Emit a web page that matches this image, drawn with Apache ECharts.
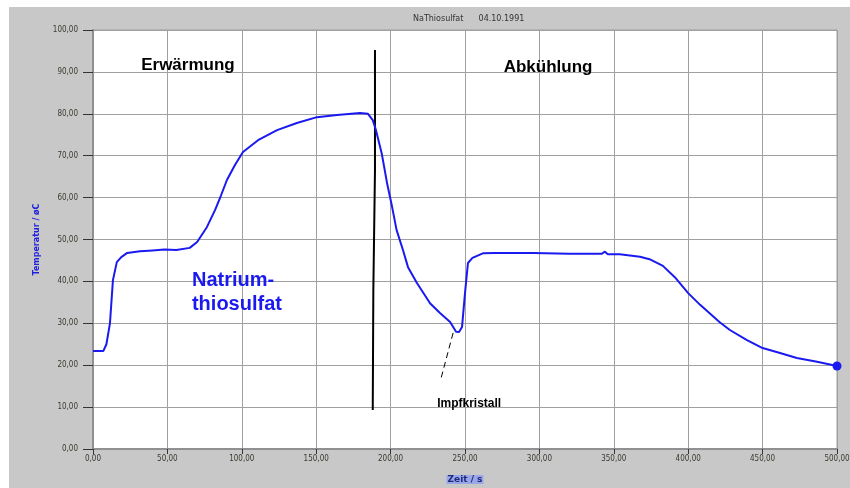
<!DOCTYPE html>
<html>
<head>
<meta charset="utf-8">
<script src="https://cdn.jsdelivr.net/npm/echarts@6/dist/echarts.min.js"></script>
<style>
html,body{margin:0;padding:0;background:#ffffff;}
#chart{width:850px;height:488px;}
</style>
</head>
<body>
<div id="chart"></div>
<script>
// Time (s) and temperature (°C)
const timeValues = [0,7,9,11.4,13.4,16,19,23,31.6,40,48,56,65,70,76.6,82,86,90,95.4,100.8,110.9,123.7,137,150.5,164,179.4,184.8,188,190,194,197.6,201,204,208.3,211.7,217.7,226.5,233,240,244,246,248,250,252,255,262,270,296,320,342,344,346,354,367.6,374,383,391,400,408,421,428,439.5,450,461.7,473,486.6,500];
const tempValues = [23.4,23.4,25,30,40.3,44.6,45.8,46.8,47.2,47.4,47.6,47.5,48,49.4,53,57,60.5,64.2,67.8,70.9,73.7,76.1,77.8,79.2,79.7,80.2,80,78.5,76.3,70.6,63.5,57.8,52.3,47.5,43.4,39.6,34.8,32.5,30.3,28,27.9,29.1,37.2,44.4,45.6,46.7,46.8,46.8,46.6,46.6,47.1,46.5,46.5,45.9,45.3,43.7,41,37.2,34.4,30.3,28.4,26,24.1,22.9,21.7,20.8,19.8];
// vertical separator line (hand drawn) and seed crystal pointer
const dividerX = [189.5,189.5,188.4,188.4,188,188];
const dividerY = [95.2,66.5,66.5,38,38,9.3];
const pointerX = [242,234];
const pointerY = [27.7,17];
const xTicks = {min:0,max:500,interval:50};
const yTicks = {min:0,max:100,interval:10};
const titleText = 'NaThiosulfat      04.10.1991';
const xName = 'Zeit / s';
const yName = 'Temperatur / øC';
const annotations = [
  {text:'Erwärmung', x:63.8, y:91.6, color:'#000000', size:17, align:'center'},
  {text:'Abkühlung', x:305.8, y:91.2, color:'#000000', size:17, align:'center'},
  {text:'Natrium-', x:66.5, y:40.3, color:'#1a1aee', size:20, align:'left'},
  {text:'thiosulfat', x:66.5, y:34.6, color:'#1a1aee', size:20, align:'left'},
  {text:'Impfkristall', x:231.3, y:10.7, color:'#000000', size:12, align:'left'}
];

const fmt = v => v.toFixed(2).replace('.', ',');
const zip = (a,b) => a.map((v,i)=>[v,b[i]]);

const chart = echarts.init(document.getElementById('chart'), null, {renderer:'canvas'});
chart.setOption({
  animation:false,
  backgroundColor:'transparent',
  graphic:[{type:'rect', z:-10, shape:{x:9,y:7,width:841,height:481}, style:{fill:'#c8c8c8'}, silent:true}],
  title:{text:titleText, left:408, top:10, textStyle:{fontSize:8, fontWeight:'normal', color:'#333333', fontFamily:'DejaVu Sans'}},
  grid:{left:93, top:30, right:13, bottom:39, outerBoundsMode:'none', containLabel:false, show:true, backgroundColor:'#ffffff', borderColor:'#a0a0a0', borderWidth:1},
  xAxis:{type:'value', min:xTicks.min, max:xTicks.max, interval:xTicks.interval,
    name:xName, nameLocation:'middle', nameGap:26,
    nameTextStyle:{fontSize:9, fontWeight:'bold', color:'#1c2a80', fontFamily:'DejaVu Sans', backgroundColor:'#9aa6e6', padding:[0,1]},
    axisLine:{lineStyle:{color:'#909090', width:2}},
    axisTick:{show:true, length:5, lineStyle:{color:'#333333'}},
    axisLabel:{formatter:fmt, fontSize:8, color:'#3a3a30', margin:6, fontFamily:'DejaVu Sans Condensed'},
    splitLine:{show:true, lineStyle:{color:'#a0a0a0', width:1}}
  },
  yAxis:{type:'value', min:yTicks.min, max:yTicks.max, interval:yTicks.interval,
    name:yName, nameLocation:'middle', nameGap:52, nameRotate:90,
    nameTextStyle:{fontSize:8, fontWeight:'bold', color:'#2020dd', fontFamily:'DejaVu Sans'},
    axisLine:{show:true, lineStyle:{color:'#909090', width:2}},
    axisTick:{show:true, length:10, lineStyle:{color:'#333333'}},
    axisLabel:{formatter:fmt, fontSize:8, color:'#3a3a30', margin:15, fontFamily:'DejaVu Sans Condensed'},
    splitLine:{show:true, lineStyle:{color:'#a0a0a0', width:1}}
  },
  series:[
    {type:'line', data:zip(dividerX,dividerY), showSymbol:false, symbol:'none', lineStyle:{color:'#000000', width:2}, z:3},
    {type:'line', data:zip(pointerX,pointerY), showSymbol:false, symbol:'none', lineStyle:{color:'#000000', width:1, type:[6,4]}, z:3},
    {type:'line', data:zip(timeValues,tempValues), showSymbol:false, symbol:'none', smooth:false, lineStyle:{color:'#1a1af0', width:2}, z:4},
    {type:'scatter', data:[[timeValues[timeValues.length-1], tempValues[tempValues.length-1]]], symbolSize:9, itemStyle:{color:'#1a1af0', opacity:1}, z:5},
    {type:'scatter', symbolSize:0, z:6, silent:true, itemStyle:{opacity:1},
      data:annotations.map(a=>({value:[a.x,a.y], label:{show:true, position:'inside', formatter:a.text, align:a.align, verticalAlign:'middle', color:a.color, opacity:1, fontSize:a.size, fontWeight:'bold', fontFamily:'Liberation Sans'}}))
    }
  ]
});
</script>
</body>
</html>
